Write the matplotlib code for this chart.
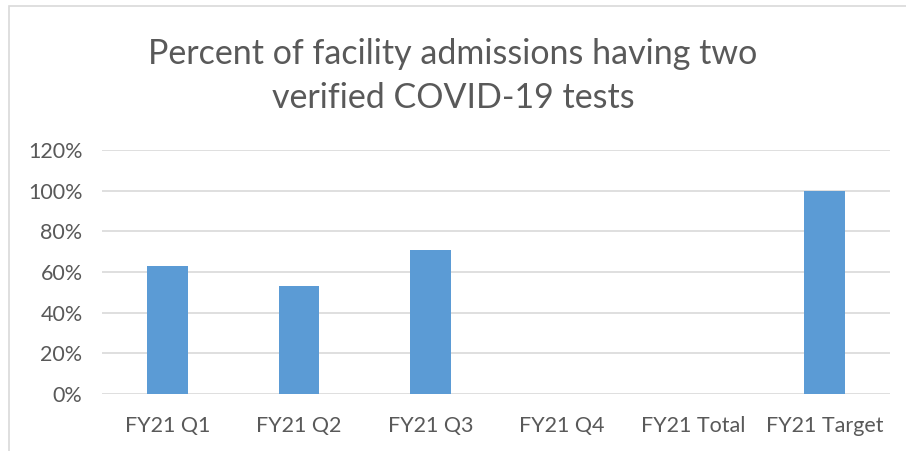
import matplotlib
matplotlib.use("Agg")
import matplotlib.pyplot as plt
from matplotlib.patches import Rectangle

categories = ["FY21 Q1", "FY21 Q2", "FY21 Q3", "FY21 Q4", "FY21 Total", "FY21 Target"]
values = [0.63, 0.53, 0.71, 0.0, 0.0, 1.00]
yticks = [0, 0.2, 0.4, 0.6, 0.8, 1.0, 1.2]
ytick_labels = ["0%", "20%", "40%", "60%", "80%", "100%", "120%"]
title = "Percent of facility admissions having two\nverified COVID-19 tests"

plt.rcParams['font.family'] = ['Lato', 'DejaVu Sans']
W, H = 906, 451
fig = plt.figure(figsize=(W/100, H/100), dpi=100)
ax = fig.add_axes([102/W, 1-394/H, (890-102)/W, (394-150)/H])

x = list(range(len(categories)))
ax.bar(x, values, width=0.31, color="#5B9BD5", zorder=3)
ax.set_xlim(-0.5, len(categories)-0.5)
ax.set_ylim(0, 1.2)
ax.set_yticks(yticks)
ax.set_yticklabels(ytick_labels)
ax.set_xticks(x)
ax.set_xticklabels(categories)
ax.tick_params(axis='both', length=0, labelsize=15.5, colors="#595959")
ax.tick_params(axis='y', pad=14)
ax.tick_params(axis='x', pad=16)
ax.grid(axis='y', color="#D9D9D9", linewidth=1.2, zorder=0)
for s in ax.spines.values():
    s.set_visible(False)

fig.text(0.5, 1-76/H, title, ha='center', va='center', fontsize=24.5, color="#595959", linespacing=1.45)

# chart border
fig.patches.append(Rectangle((9/W, -0.1), 1.2, 1-6/H+0.1, transform=fig.transFigure,
                             fill=False, edgecolor="#D9D9D9", linewidth=1.2))
fig.savefig("out.png", dpi=100)
